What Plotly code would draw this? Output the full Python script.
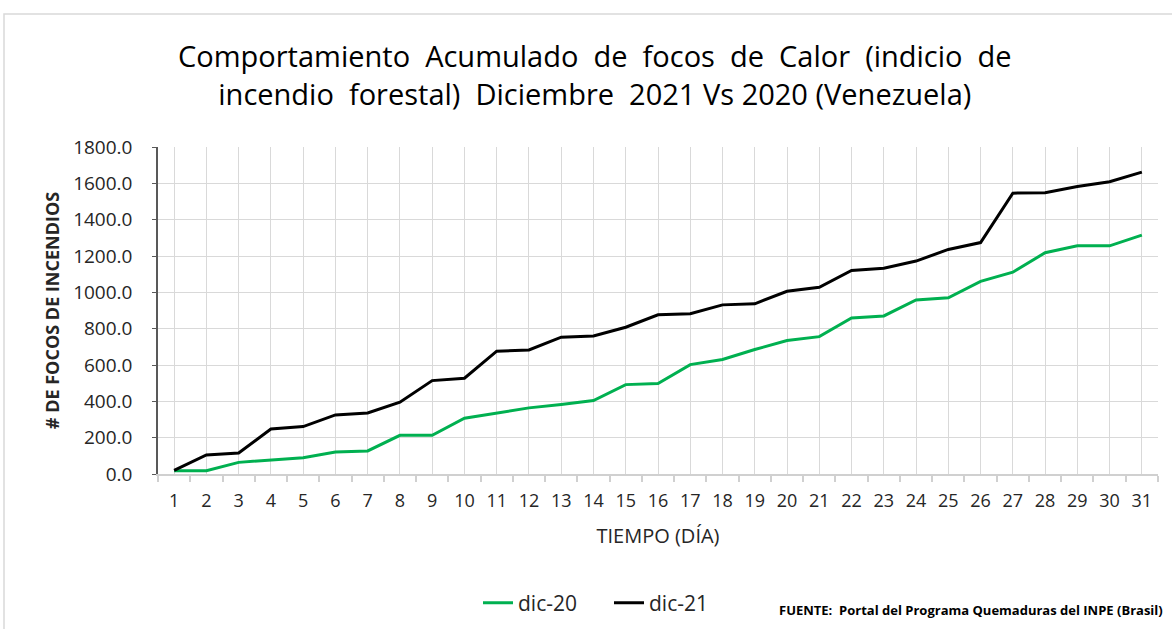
import plotly.graph_objects as go

days = list(range(1, 32))
dic20 = [18, 18, 64, 77, 90, 121, 127, 213, 213, 307,
         334, 364, 382, 404, 492, 498, 602, 630, 685, 735,
         756, 859, 870, 958, 970, 1060, 1111, 1218, 1256, 1256, 1315]
dic21 = [20, 105, 116, 248, 261, 325, 336, 395, 514, 527,
         676, 683, 753, 760, 808, 876, 882, 931, 937, 1006,
         1028, 1120, 1133, 1172, 1236, 1274, 1546, 1548, 1583, 1609, 1662]
y_ticks = [0, 200, 400, 600, 800, 1000, 1200, 1400, 1600, 1800]

FONT = "Open Sans, Liberation Sans, sans-serif"
TXT = "#262626"

fig = go.Figure()
fig.add_trace(go.Scatter(x=days, y=dic20, mode="lines", name="dic-20",
                         line=dict(color="#00B050", width=3)))
fig.add_trace(go.Scatter(x=days, y=dic21, mode="lines", name="dic-21",
                         line=dict(color="#000000", width=3)))

W, H = 1172, 629
L, R, T, B = 158, 14, 147, 155
pw, ph = W - L - R, H - T - B

def px2paper_x(px):
    return (px - L) / pw

def px2paper_y(py):
    return (H - B - py) / ph

fig.update_layout(
    width=W, height=H,
    margin=dict(l=L, r=R, t=T, b=B, autoexpand=False),
    paper_bgcolor="white", plot_bgcolor="white",
    font=dict(family=FONT, color=TXT),
    showlegend=True,
    legend=dict(orientation="h", x=px2paper_x(478), xanchor="left",
                y=px2paper_y(603), yanchor="middle",
                font=dict(size=21, family=FONT, color=TXT), itemwidth=30,
                entrywidth=86, entrywidthmode="pixels",
                bgcolor="rgba(0,0,0,0)"),
    xaxis=dict(range=[0.5, 31.5], tickmode="array", tickvals=days,
               ticktext=[str(d) for d in days],
               showgrid=True, gridcolor="#D9D9D9", gridwidth=1,
               ticks="", showline=True, linecolor="#D0D0D0", linewidth=1.5,
               tickfont=dict(size=18, family=FONT, color=TXT),
               ticklabelstandoff=10, automargin=False,
               minor=dict(tickvals=[d + 0.5 for d in range(0, 32)], ticks="outside",
                          ticklen=6, tickcolor="#D0D0D0", tickwidth=1.5, showgrid=False),
               title=dict(text="TIEMPO (DÍA)", font=dict(size=20, family=FONT, color=TXT), standoff=18),
               zeroline=False, fixedrange=True),
    yaxis=dict(range=[0, 1800], tickmode="array", tickvals=y_ticks,
               ticktext=[f"{v:.1f}" for v in y_ticks],
               showgrid=True, gridcolor="#D9D9D9", gridwidth=1,
               ticks="outside", ticklen=4, tickcolor="#595959",
               showline=True, linecolor="#595959", linewidth=1.5,
               tickfont=dict(size=19, family=FONT, color=TXT),
               ticklabelstandoff=16, automargin=False,
               title=dict(text="<b># DE FOCOS DE INCENDIOS</b>", font=dict(size=18, family=FONT, color=TXT), standoff=9),
               zeroline=False, fixedrange=True),
    annotations=[
        dict(text="Comportamiento  Acumulado  de  focos  de  Calor  (indicio  de<br>incendio  forestal)  Diciembre  2021 Vs 2020 (Venezuela)",
             xref="paper", yref="paper", x=px2paper_x(595), y=px2paper_y(74),
             xanchor="center", yanchor="middle", showarrow=False, align="center",
             font=dict(size=29, family=FONT, color="#000000")),
        dict(text="<b>FUENTE:  Portal del Programa Quemaduras del INPE (Brasil)</b>",
             xref="paper", yref="paper", x=px2paper_x(1165), y=px2paper_y(610),
             xanchor="right", yanchor="middle", showarrow=False,
             font=dict(size=13, family=FONT, color="#000000")),
    ],
    shapes=[
        dict(type="rect", xref="paper", yref="paper",
             x0=px2paper_x(4), x1=px2paper_x(1180), y0=px2paper_y(640), y1=px2paper_y(14),
             line=dict(color="#D9D9D9", width=1.5), fillcolor="rgba(0,0,0,0)", layer="below"),
    ],
)

fig.write_html("out.html", config={"displayModeBar": False},
               post_script="document.body.style.margin='0px';")
